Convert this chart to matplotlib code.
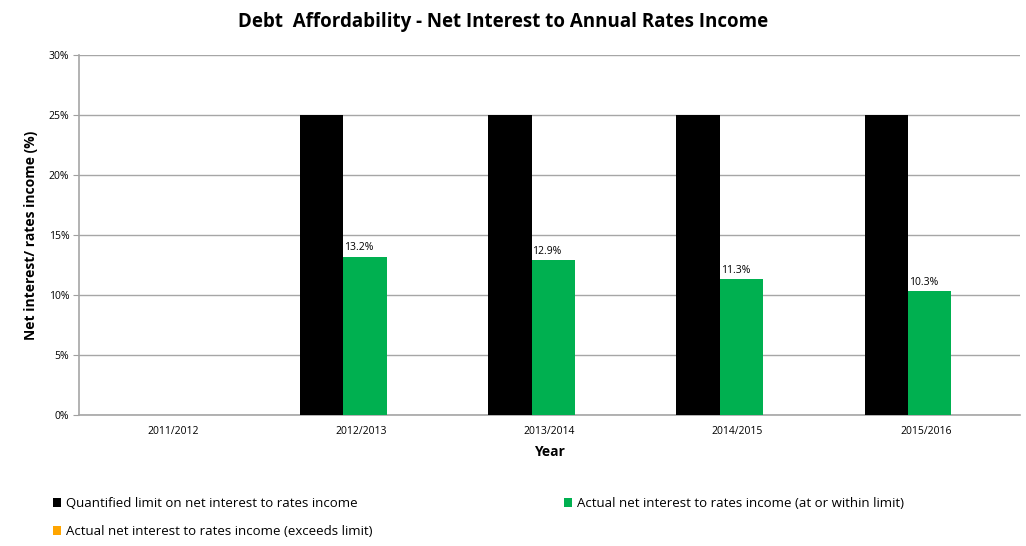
import matplotlib.pyplot as plt
import numpy as np

years = ['2011/2012', '2012/2013', '2013/2014', '2014/2015', '2015/2016']
limit = [np.nan, 25, 25, 25, 25]
actual_within = [np.nan, 13.2, 12.9, 11.3, 10.3]
actual_exceeds = [np.nan, np.nan, np.nan, np.nan, np.nan]

plt.rcParams['font.family'] = ['Open Sans', 'DejaVu Sans']

fig = plt.figure(figsize=(10.26, 5.46), dpi=100)
ax = fig.add_axes([0.077, 0.240, 0.917, 0.659])

x = np.arange(len(years))
w = 0.23
h1 = ax.bar(x - w + 0.02, limit, w, color='#000000', label='Quantified limit on net interest to rates income', zorder=3)
h2 = ax.bar(x + 0.02, actual_within, w, color='#00b050', label='Actual net interest to rates income (at or within limit)', zorder=3)
h3 = ax.bar(x + w + 0.02, actual_exceeds, w, color='#ffa500', label='Actual net interest to rates income (exceeds limit)', zorder=3)

for xi, v in zip(x, actual_within):
    if not np.isnan(v):
        ax.text(xi + 0.02 - w / 2 + 0.005, v + 0.3, f'{v:.1f}%', fontsize=7.5, ha='left', va='bottom')

ax.set_xlim(-0.5, len(years) - 0.5)
ax.set_ylim(0, 30)
ax.set_yticks(range(0, 31, 5))
ax.set_yticklabels([f'{t}%' for t in range(0, 31, 5)], fontsize=7.5)
ax.set_xticks(x)
ax.set_xticklabels(years, fontsize=7.5)
ax.tick_params(axis='x', length=0, pad=8)
ax.tick_params(axis='y', length=4, color='#a0a0a0', pad=3)
ax.yaxis.grid(True, color='#a6a6a6', linewidth=1, zorder=0)
for s in ['top', 'right']:
    ax.spines[s].set_visible(False)
for s in ['left', 'bottom']:
    ax.spines[s].set_color('#a6a6a6')
    ax.spines[s].set_linewidth(1.2)

ax.set_xlabel('Year', fontsize=10, fontweight='bold', labelpad=6)
ax.set_ylabel('Net interest/ rates income (%)', fontsize=10, fontweight='bold', labelpad=8)
fig.suptitle('Debt  Affordability - Net Interest to Annual Rates Income', fontsize=13.5, fontweight='bold', x=0.49, y=0.978)

ax.legend(handles=[h1, h3, h2], loc='upper left', bbox_to_anchor=(-0.04, -0.195), ncol=2, frameon=False, fontsize=9.5,
          handlelength=0.6, handleheight=0.6, handletextpad=0.4, columnspacing=14.5, labelspacing=1.15)

fig.savefig('out.png', dpi=100)
